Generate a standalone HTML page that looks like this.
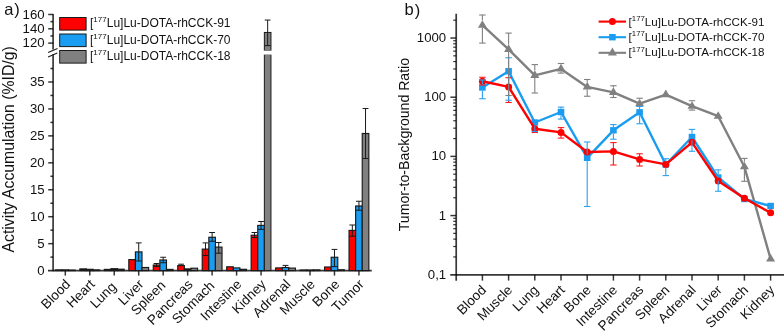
<!DOCTYPE html>
<html><head><meta charset="utf-8"><style>
html,body{margin:0;padding:0;background:#fff;width:784px;height:336px;overflow:hidden;}
svg{display:block;will-change:transform;}
text{font-family:"Liberation Sans", sans-serif;fill:#111;}
</style></head><body>
<svg width="784" height="336" viewBox="0 0 784 336">
<rect width="784" height="336" fill="#fff"/>
<line x1="53.1" y1="54.3" x2="53.1" y2="271.3" stroke="#000" stroke-opacity="0.78" stroke-width="1.7"/>
<line x1="53.1" y1="13.88" x2="53.1" y2="49.6" stroke="#000" stroke-opacity="0.78" stroke-width="1.7"/>
<line x1="48.1" y1="52.4" x2="57.5" y2="48.4" stroke="#1a1a1a" stroke-width="1.1"/>
<line x1="48.1" y1="57.0" x2="57.3" y2="53.1" stroke="#1a1a1a" stroke-width="1.1"/>
<line x1="48" y1="270.6" x2="371.8" y2="270.6" stroke="#000" stroke-opacity="0.78" stroke-width="1.8"/>
<text x="44.6" y="274.7" font-size="13.2" text-anchor="end">0</text>
<line x1="48.2" y1="243.66" x2="53.1" y2="243.66" stroke="#000" stroke-opacity="0.78" stroke-width="1.5"/>
<text x="44.6" y="247.76" font-size="13.2" text-anchor="end">5</text>
<line x1="48.2" y1="216.71" x2="53.1" y2="216.71" stroke="#000" stroke-opacity="0.78" stroke-width="1.5"/>
<text x="44.6" y="220.81" font-size="13.2" text-anchor="end">10</text>
<line x1="48.2" y1="189.77" x2="53.1" y2="189.77" stroke="#000" stroke-opacity="0.78" stroke-width="1.5"/>
<text x="44.6" y="193.87" font-size="13.2" text-anchor="end">15</text>
<line x1="48.2" y1="162.82" x2="53.1" y2="162.82" stroke="#000" stroke-opacity="0.78" stroke-width="1.5"/>
<text x="44.6" y="166.92" font-size="13.2" text-anchor="end">20</text>
<line x1="48.2" y1="135.88" x2="53.1" y2="135.88" stroke="#000" stroke-opacity="0.78" stroke-width="1.5"/>
<text x="44.6" y="139.98" font-size="13.2" text-anchor="end">25</text>
<line x1="48.2" y1="108.93" x2="53.1" y2="108.93" stroke="#000" stroke-opacity="0.78" stroke-width="1.5"/>
<text x="44.6" y="113.03" font-size="13.2" text-anchor="end">30</text>
<line x1="48.2" y1="81.99" x2="53.1" y2="81.99" stroke="#000" stroke-opacity="0.78" stroke-width="1.5"/>
<text x="44.6" y="86.09" font-size="13.2" text-anchor="end">35</text>
<line x1="50.4" y1="257.13" x2="53.1" y2="257.13" stroke="#000" stroke-opacity="0.78" stroke-width="1.5"/>
<line x1="50.4" y1="230.18" x2="53.1" y2="230.18" stroke="#000" stroke-opacity="0.78" stroke-width="1.5"/>
<line x1="50.4" y1="203.24" x2="53.1" y2="203.24" stroke="#000" stroke-opacity="0.78" stroke-width="1.5"/>
<line x1="50.4" y1="176.29" x2="53.1" y2="176.29" stroke="#000" stroke-opacity="0.78" stroke-width="1.5"/>
<line x1="50.4" y1="149.35" x2="53.1" y2="149.35" stroke="#000" stroke-opacity="0.78" stroke-width="1.5"/>
<line x1="50.4" y1="122.4" x2="53.1" y2="122.4" stroke="#000" stroke-opacity="0.78" stroke-width="1.5"/>
<line x1="50.4" y1="95.46" x2="53.1" y2="95.46" stroke="#000" stroke-opacity="0.78" stroke-width="1.5"/>
<line x1="50.4" y1="68.51" x2="53.1" y2="68.51" stroke="#000" stroke-opacity="0.78" stroke-width="1.5"/>
<line x1="48.2" y1="43.1" x2="53.1" y2="43.1" stroke="#000" stroke-opacity="0.78" stroke-width="1.5"/>
<text x="44.6" y="47.2" font-size="13.2" text-anchor="end">120</text>
<line x1="48.2" y1="28.79" x2="53.1" y2="28.79" stroke="#000" stroke-opacity="0.78" stroke-width="1.5"/>
<text x="44.6" y="32.89" font-size="13.2" text-anchor="end">140</text>
<line x1="48.2" y1="14.48" x2="53.1" y2="14.48" stroke="#000" stroke-opacity="0.78" stroke-width="1.5"/>
<text x="44.6" y="18.58" font-size="13.2" text-anchor="end">160</text>
<line x1="50.4" y1="35.94" x2="53.1" y2="35.94" stroke="#000" stroke-opacity="0.78" stroke-width="1.5"/>
<line x1="50.4" y1="21.63" x2="53.1" y2="21.63" stroke="#000" stroke-opacity="0.78" stroke-width="1.5"/>
<line x1="65.3" y1="270.6" x2="65.3" y2="275.6" stroke="#000" stroke-opacity="0.78" stroke-width="1.5"/>
<text transform="translate(71.1,285.1) rotate(-45)" font-size="13.6" text-anchor="end">Blood</text>
<line x1="89.77" y1="270.6" x2="89.77" y2="275.6" stroke="#000" stroke-opacity="0.78" stroke-width="1.5"/>
<text transform="translate(95.57,285.1) rotate(-45)" font-size="13.6" text-anchor="end">Heart</text>
<line x1="114.24" y1="270.6" x2="114.24" y2="275.6" stroke="#000" stroke-opacity="0.78" stroke-width="1.5"/>
<text transform="translate(117.04,287.6) rotate(-45)" font-size="13.6" text-anchor="end">Lung</text>
<line x1="138.71" y1="270.6" x2="138.71" y2="275.6" stroke="#000" stroke-opacity="0.78" stroke-width="1.5"/>
<text transform="translate(144.51,285.1) rotate(-45)" font-size="13.6" text-anchor="end">Liver</text>
<line x1="163.18" y1="270.6" x2="163.18" y2="275.6" stroke="#000" stroke-opacity="0.78" stroke-width="1.5"/>
<text transform="translate(166.38,286.1) rotate(-45)" font-size="13.6" text-anchor="end">Spleen</text>
<line x1="187.65" y1="270.6" x2="187.65" y2="275.6" stroke="#000" stroke-opacity="0.78" stroke-width="1.5"/>
<text transform="translate(193.45,285.1) rotate(-45)" font-size="13.6" text-anchor="end">Pancreas</text>
<line x1="212.12" y1="270.6" x2="212.12" y2="275.6" stroke="#000" stroke-opacity="0.78" stroke-width="1.5"/>
<text transform="translate(215.32,286.6) rotate(-45)" font-size="13.6" text-anchor="end">Stomach</text>
<line x1="236.59" y1="270.6" x2="236.59" y2="275.6" stroke="#000" stroke-opacity="0.78" stroke-width="1.5"/>
<text transform="translate(242.39,285.1) rotate(-45)" font-size="13.6" text-anchor="end">Intestine</text>
<line x1="261.06" y1="270.6" x2="261.06" y2="275.6" stroke="#000" stroke-opacity="0.78" stroke-width="1.5"/>
<text transform="translate(266.86,285.1) rotate(-45)" font-size="13.6" text-anchor="end">Kidney</text>
<line x1="285.53" y1="270.6" x2="285.53" y2="275.6" stroke="#000" stroke-opacity="0.78" stroke-width="1.5"/>
<text transform="translate(291.33,285.1) rotate(-45)" font-size="13.6" text-anchor="end">Adrenal</text>
<line x1="310" y1="270.6" x2="310" y2="275.6" stroke="#000" stroke-opacity="0.78" stroke-width="1.5"/>
<text transform="translate(315.8,285.1) rotate(-45)" font-size="13.6" text-anchor="end">Muscle</text>
<line x1="334.47" y1="270.6" x2="334.47" y2="275.6" stroke="#000" stroke-opacity="0.78" stroke-width="1.5"/>
<text transform="translate(340.27,285.1) rotate(-45)" font-size="13.6" text-anchor="end">Bone</text>
<line x1="358.94" y1="270.6" x2="358.94" y2="275.6" stroke="#000" stroke-opacity="0.78" stroke-width="1.5"/>
<text transform="translate(364.74,285.1) rotate(-45)" font-size="13.6" text-anchor="end">Tumor</text>
<rect x="55.4" y="269.9" width="6.6" height="0.7" fill="#1a1a1a" stroke="#1a1a1a" stroke-width="1.15"/>
<rect x="62" y="269.9" width="6.6" height="0.7" fill="#1a1a1a" stroke="#1a1a1a" stroke-width="1.15"/>
<rect x="68.6" y="270.1" width="6.6" height="0.5" fill="#1a1a1a" stroke="#1a1a1a" stroke-width="1.15"/>
<rect x="79.87" y="268.9" width="6.6" height="1.7" fill="#1a1a1a" stroke="#1a1a1a" stroke-width="1.15"/>
<rect x="86.47" y="269.3" width="6.6" height="1.3" fill="#1a1a1a" stroke="#1a1a1a" stroke-width="1.15"/>
<rect x="93.07" y="269.9" width="6.6" height="0.7" fill="#1a1a1a" stroke="#1a1a1a" stroke-width="1.15"/>
<rect x="104.34" y="269.4" width="6.6" height="1.2" fill="#1a1a1a" stroke="#1a1a1a" stroke-width="1.15"/>
<rect x="110.94" y="268.7" width="6.6" height="1.9" fill="#1a1a1a" stroke="#1a1a1a" stroke-width="1.15"/>
<rect x="117.54" y="269.2" width="6.6" height="1.4" fill="#1a1a1a" stroke="#1a1a1a" stroke-width="1.15"/>
<rect x="128.81" y="259.6" width="6.6" height="11" fill="#ff0000" stroke="#1a1a1a" stroke-width="1.15"/>
<rect x="135.41" y="251.9" width="6.6" height="18.7" fill="#1a9cf0" stroke="#1a1a1a" stroke-width="1.15"/>
<line x1="138.71" y1="242.9" x2="138.71" y2="251.9" stroke="#1a1a1a" stroke-width="1"/>
<line x1="135.81" y1="242.9" x2="141.61" y2="242.9" stroke="#1a1a1a" stroke-width="1"/>
<line x1="138.71" y1="251.9" x2="138.71" y2="261" stroke="#1a1a1a" stroke-width="1"/>
<line x1="135.71" y1="261" x2="141.71" y2="261" stroke="#1a1a1a" stroke-width="1"/>
<rect x="142.01" y="267.5" width="6.6" height="3.1" fill="#808080" stroke="#1a1a1a" stroke-width="1.15"/>
<rect x="153.28" y="265" width="6.6" height="5.6" fill="#ff0000" stroke="#1a1a1a" stroke-width="1.15"/>
<line x1="156.58" y1="263.5" x2="156.58" y2="265" stroke="#1a1a1a" stroke-width="1"/>
<line x1="153.68" y1="263.5" x2="159.48" y2="263.5" stroke="#1a1a1a" stroke-width="1"/>
<line x1="156.58" y1="265" x2="156.58" y2="266.5" stroke="#1a1a1a" stroke-width="1"/>
<line x1="153.58" y1="266.5" x2="159.58" y2="266.5" stroke="#1a1a1a" stroke-width="1"/>
<rect x="159.88" y="260" width="6.6" height="10.6" fill="#1a9cf0" stroke="#1a1a1a" stroke-width="1.15"/>
<line x1="163.18" y1="257.25" x2="163.18" y2="260" stroke="#1a1a1a" stroke-width="1"/>
<line x1="160.28" y1="257.25" x2="166.08" y2="257.25" stroke="#1a1a1a" stroke-width="1"/>
<line x1="163.18" y1="260" x2="163.18" y2="262.75" stroke="#1a1a1a" stroke-width="1"/>
<line x1="160.18" y1="262.75" x2="166.18" y2="262.75" stroke="#1a1a1a" stroke-width="1"/>
<rect x="166.48" y="269.4" width="6.6" height="1.2" fill="#1a1a1a" stroke="#1a1a1a" stroke-width="1.15"/>
<rect x="177.75" y="265.6" width="6.6" height="5" fill="#ff0000" stroke="#1a1a1a" stroke-width="1.15"/>
<line x1="181.05" y1="264.2" x2="181.05" y2="265.6" stroke="#1a1a1a" stroke-width="1"/>
<line x1="178.15" y1="264.2" x2="183.95" y2="264.2" stroke="#1a1a1a" stroke-width="1"/>
<rect x="184.35" y="268.9" width="6.6" height="1.7" fill="#1a1a1a" stroke="#1a1a1a" stroke-width="1.15"/>
<rect x="190.95" y="268.2" width="6.6" height="2.4" fill="#808080" stroke="#1a1a1a" stroke-width="1.15"/>
<rect x="202.22" y="249.1" width="6.6" height="21.5" fill="#ff0000" stroke="#1a1a1a" stroke-width="1.15"/>
<line x1="205.52" y1="242.9" x2="205.52" y2="249.1" stroke="#1a1a1a" stroke-width="1"/>
<line x1="202.62" y1="242.9" x2="208.42" y2="242.9" stroke="#1a1a1a" stroke-width="1"/>
<line x1="205.52" y1="249.1" x2="205.52" y2="255.5" stroke="#1a1a1a" stroke-width="1"/>
<line x1="202.52" y1="255.5" x2="208.52" y2="255.5" stroke="#1a1a1a" stroke-width="1"/>
<rect x="208.82" y="237.25" width="6.6" height="33.35" fill="#1a9cf0" stroke="#1a1a1a" stroke-width="1.15"/>
<line x1="212.12" y1="232.5" x2="212.12" y2="237.25" stroke="#1a1a1a" stroke-width="1"/>
<line x1="209.22" y1="232.5" x2="215.02" y2="232.5" stroke="#1a1a1a" stroke-width="1"/>
<line x1="212.12" y1="237.25" x2="212.12" y2="241.25" stroke="#1a1a1a" stroke-width="1"/>
<line x1="209.12" y1="241.25" x2="215.12" y2="241.25" stroke="#1a1a1a" stroke-width="1"/>
<rect x="215.42" y="247.1" width="6.6" height="23.5" fill="#808080" stroke="#1a1a1a" stroke-width="1.15"/>
<line x1="218.72" y1="242.5" x2="218.72" y2="247.1" stroke="#1a1a1a" stroke-width="1"/>
<line x1="215.82" y1="242.5" x2="221.62" y2="242.5" stroke="#1a1a1a" stroke-width="1"/>
<line x1="218.72" y1="247.1" x2="218.72" y2="253.2" stroke="#1a1a1a" stroke-width="1"/>
<line x1="215.72" y1="253.2" x2="221.72" y2="253.2" stroke="#1a1a1a" stroke-width="1"/>
<rect x="226.69" y="266.8" width="6.6" height="3.8" fill="#ff0000" stroke="#1a1a1a" stroke-width="1.15"/>
<rect x="233.29" y="267.9" width="6.6" height="2.7" fill="#1a9cf0" stroke="#1a1a1a" stroke-width="1.15"/>
<rect x="239.89" y="269.3" width="6.6" height="1.3" fill="#1a1a1a" stroke="#1a1a1a" stroke-width="1.15"/>
<rect x="251.16" y="235.25" width="6.6" height="35.35" fill="#ff0000" stroke="#1a1a1a" stroke-width="1.15"/>
<line x1="254.46" y1="232.5" x2="254.46" y2="235.25" stroke="#1a1a1a" stroke-width="1"/>
<line x1="251.56" y1="232.5" x2="257.36" y2="232.5" stroke="#1a1a1a" stroke-width="1"/>
<line x1="254.46" y1="235.25" x2="254.46" y2="237.5" stroke="#1a1a1a" stroke-width="1"/>
<line x1="251.46" y1="237.5" x2="257.46" y2="237.5" stroke="#1a1a1a" stroke-width="1"/>
<rect x="257.76" y="225.4" width="6.6" height="45.2" fill="#1a9cf0" stroke="#1a1a1a" stroke-width="1.15"/>
<line x1="261.06" y1="221.5" x2="261.06" y2="225.4" stroke="#1a1a1a" stroke-width="1"/>
<line x1="258.16" y1="221.5" x2="263.96" y2="221.5" stroke="#1a1a1a" stroke-width="1"/>
<line x1="261.06" y1="225.4" x2="261.06" y2="229.4" stroke="#1a1a1a" stroke-width="1"/>
<line x1="258.06" y1="229.4" x2="264.06" y2="229.4" stroke="#1a1a1a" stroke-width="1"/>
<rect x="275.63" y="267.9" width="6.6" height="2.7" fill="#ff0000" stroke="#1a1a1a" stroke-width="1.15"/>
<rect x="282.23" y="267.5" width="6.6" height="3.1" fill="#1a9cf0" stroke="#1a1a1a" stroke-width="1.15"/>
<line x1="285.53" y1="265.4" x2="285.53" y2="267.5" stroke="#1a1a1a" stroke-width="1"/>
<line x1="282.63" y1="265.4" x2="288.43" y2="265.4" stroke="#1a1a1a" stroke-width="1"/>
<rect x="288.83" y="268.1" width="6.6" height="2.5" fill="#808080" stroke="#1a1a1a" stroke-width="1.15"/>
<rect x="300.1" y="270" width="6.6" height="0.6" fill="#1a1a1a" stroke="#1a1a1a" stroke-width="1.15"/>
<rect x="306.7" y="270" width="6.6" height="0.6" fill="#1a1a1a" stroke="#1a1a1a" stroke-width="1.15"/>
<rect x="313.3" y="269.9" width="6.6" height="0.7" fill="#1a1a1a" stroke="#1a1a1a" stroke-width="1.15"/>
<rect x="324.57" y="267" width="6.6" height="3.6" fill="#ff0000" stroke="#1a1a1a" stroke-width="1.15"/>
<rect x="331.17" y="257.25" width="6.6" height="13.35" fill="#1a9cf0" stroke="#1a1a1a" stroke-width="1.15"/>
<line x1="334.47" y1="249.4" x2="334.47" y2="257.25" stroke="#1a1a1a" stroke-width="1"/>
<line x1="331.57" y1="249.4" x2="337.37" y2="249.4" stroke="#1a1a1a" stroke-width="1"/>
<line x1="334.47" y1="257.25" x2="334.47" y2="266.6" stroke="#1a1a1a" stroke-width="1"/>
<line x1="331.47" y1="266.6" x2="337.47" y2="266.6" stroke="#1a1a1a" stroke-width="1"/>
<rect x="337.77" y="269.8" width="6.6" height="0.8" fill="#1a1a1a" stroke="#1a1a1a" stroke-width="1.15"/>
<rect x="349.04" y="230.4" width="6.6" height="40.2" fill="#ff0000" stroke="#1a1a1a" stroke-width="1.15"/>
<line x1="352.34" y1="225" x2="352.34" y2="230.4" stroke="#1a1a1a" stroke-width="1"/>
<line x1="349.44" y1="225" x2="355.24" y2="225" stroke="#1a1a1a" stroke-width="1"/>
<line x1="352.34" y1="230.4" x2="352.34" y2="236.25" stroke="#1a1a1a" stroke-width="1"/>
<line x1="349.34" y1="236.25" x2="355.34" y2="236.25" stroke="#1a1a1a" stroke-width="1"/>
<rect x="355.64" y="206" width="6.6" height="64.6" fill="#1a9cf0" stroke="#1a1a1a" stroke-width="1.15"/>
<line x1="358.94" y1="201.25" x2="358.94" y2="206" stroke="#1a1a1a" stroke-width="1"/>
<line x1="356.04" y1="201.25" x2="361.84" y2="201.25" stroke="#1a1a1a" stroke-width="1"/>
<line x1="358.94" y1="206" x2="358.94" y2="210.25" stroke="#1a1a1a" stroke-width="1"/>
<line x1="355.94" y1="210.25" x2="361.94" y2="210.25" stroke="#1a1a1a" stroke-width="1"/>
<rect x="362.24" y="133.5" width="6.6" height="137.1" fill="#808080" stroke="#1a1a1a" stroke-width="1.15"/>
<line x1="365.54" y1="108.5" x2="365.54" y2="133.5" stroke="#1a1a1a" stroke-width="1"/>
<line x1="362.64" y1="108.5" x2="368.44" y2="108.5" stroke="#1a1a1a" stroke-width="1"/>
<line x1="365.54" y1="133.5" x2="365.54" y2="158.5" stroke="#1a1a1a" stroke-width="1"/>
<line x1="362.54" y1="158.5" x2="368.54" y2="158.5" stroke="#1a1a1a" stroke-width="1"/>
<rect x="264.36" y="54.4" width="6.6" height="216.2" fill="#808080" stroke="#1a1a1a" stroke-width="1"/>
<rect x="263.36" y="50.6" width="8.6" height="3.8" fill="#fff"/>
<rect x="264.36" y="32.45" width="6.6" height="18.15" fill="#808080" stroke="#1a1a1a" stroke-width="1"/>
<rect x="263.36" y="50.6" width="8.6" height="3.8" fill="#fff"/>
<line x1="267.66" y1="20.06" x2="267.66" y2="45.6" stroke="#1a1a1a" stroke-width="1"/>
<line x1="264.76" y1="20.06" x2="270.56" y2="20.06" stroke="#1a1a1a" stroke-width="1"/>
<line x1="264.66" y1="45.6" x2="270.66" y2="45.6" stroke="#1a1a1a" stroke-width="1"/>
<rect x="59.7" y="17.5" width="26.4" height="12.6" fill="#ff0000" stroke="#1a1a1a" stroke-width="1"/>
<text x="90.0" y="27.3" font-size="12">[<tspan font-size="8" dy="-5">177</tspan><tspan dy="5">Lu]Lu-DOTA-rhCCK-91</tspan></text>
<rect x="59.7" y="34" width="26.4" height="12.6" fill="#1a9cf0" stroke="#1a1a1a" stroke-width="1"/>
<text x="90.0" y="43.8" font-size="12">[<tspan font-size="8" dy="-5">177</tspan><tspan dy="5">Lu]Lu-DOTA-rhCCK-70</tspan></text>
<rect x="59.7" y="50.5" width="26.4" height="12.6" fill="#808080" stroke="#1a1a1a" stroke-width="1"/>
<text x="90.0" y="60.3" font-size="12">[<tspan font-size="8" dy="-5">177</tspan><tspan dy="5">Lu]Lu-DOTA-rhCCK-18</tspan></text>
<text transform="translate(13.6,149.4) rotate(-90)" font-size="15.8" text-anchor="middle">Activity Accumulation (%ID/g)</text>
<text x="4.2" y="15.0" font-size="16.5">a</text><text x="14.2" y="15.4" font-size="16.5">)</text>
<line x1="456.2" y1="13.75" x2="456.2" y2="280.8" stroke="#000" stroke-opacity="0.78" stroke-width="1.7"/>
<line x1="450.2" y1="274.9" x2="784" y2="274.9" stroke="#000" stroke-opacity="0.78" stroke-width="1.8"/>
<text x="446.2" y="278.85" font-size="13.2" text-anchor="end">0,1</text>
<line x1="450.4" y1="215.57" x2="456.2" y2="215.57" stroke="#000" stroke-opacity="0.78" stroke-width="1.5"/>
<text x="446.2" y="219.67" font-size="13.2" text-anchor="end">1</text>
<line x1="450.4" y1="156.39" x2="456.2" y2="156.39" stroke="#000" stroke-opacity="0.78" stroke-width="1.5"/>
<text x="446.2" y="160.49" font-size="13.2" text-anchor="end">10</text>
<line x1="450.4" y1="97.21" x2="456.2" y2="97.21" stroke="#000" stroke-opacity="0.78" stroke-width="1.5"/>
<text x="446.2" y="101.31" font-size="13.2" text-anchor="end">100</text>
<line x1="450.4" y1="38.03" x2="456.2" y2="38.03" stroke="#000" stroke-opacity="0.78" stroke-width="1.5"/>
<text x="446.2" y="42.13" font-size="13.2" text-anchor="end">1000</text>
<line x1="453.2" y1="256.94" x2="456.2" y2="256.94" stroke="#000" stroke-opacity="0.78" stroke-width="1.2"/>
<line x1="453.2" y1="246.51" x2="456.2" y2="246.51" stroke="#000" stroke-opacity="0.78" stroke-width="1.2"/>
<line x1="453.2" y1="239.12" x2="456.2" y2="239.12" stroke="#000" stroke-opacity="0.78" stroke-width="1.2"/>
<line x1="453.2" y1="233.38" x2="456.2" y2="233.38" stroke="#000" stroke-opacity="0.78" stroke-width="1.2"/>
<line x1="453.2" y1="228.7" x2="456.2" y2="228.7" stroke="#000" stroke-opacity="0.78" stroke-width="1.2"/>
<line x1="453.2" y1="224.74" x2="456.2" y2="224.74" stroke="#000" stroke-opacity="0.78" stroke-width="1.2"/>
<line x1="453.2" y1="221.31" x2="456.2" y2="221.31" stroke="#000" stroke-opacity="0.78" stroke-width="1.2"/>
<line x1="453.2" y1="218.28" x2="456.2" y2="218.28" stroke="#000" stroke-opacity="0.78" stroke-width="1.2"/>
<line x1="453.2" y1="197.76" x2="456.2" y2="197.76" stroke="#000" stroke-opacity="0.78" stroke-width="1.2"/>
<line x1="453.2" y1="187.33" x2="456.2" y2="187.33" stroke="#000" stroke-opacity="0.78" stroke-width="1.2"/>
<line x1="453.2" y1="179.94" x2="456.2" y2="179.94" stroke="#000" stroke-opacity="0.78" stroke-width="1.2"/>
<line x1="453.2" y1="174.2" x2="456.2" y2="174.2" stroke="#000" stroke-opacity="0.78" stroke-width="1.2"/>
<line x1="453.2" y1="169.52" x2="456.2" y2="169.52" stroke="#000" stroke-opacity="0.78" stroke-width="1.2"/>
<line x1="453.2" y1="165.56" x2="456.2" y2="165.56" stroke="#000" stroke-opacity="0.78" stroke-width="1.2"/>
<line x1="453.2" y1="162.13" x2="456.2" y2="162.13" stroke="#000" stroke-opacity="0.78" stroke-width="1.2"/>
<line x1="453.2" y1="159.1" x2="456.2" y2="159.1" stroke="#000" stroke-opacity="0.78" stroke-width="1.2"/>
<line x1="453.2" y1="138.58" x2="456.2" y2="138.58" stroke="#000" stroke-opacity="0.78" stroke-width="1.2"/>
<line x1="453.2" y1="128.15" x2="456.2" y2="128.15" stroke="#000" stroke-opacity="0.78" stroke-width="1.2"/>
<line x1="453.2" y1="120.76" x2="456.2" y2="120.76" stroke="#000" stroke-opacity="0.78" stroke-width="1.2"/>
<line x1="453.2" y1="115.02" x2="456.2" y2="115.02" stroke="#000" stroke-opacity="0.78" stroke-width="1.2"/>
<line x1="453.2" y1="110.34" x2="456.2" y2="110.34" stroke="#000" stroke-opacity="0.78" stroke-width="1.2"/>
<line x1="453.2" y1="106.38" x2="456.2" y2="106.38" stroke="#000" stroke-opacity="0.78" stroke-width="1.2"/>
<line x1="453.2" y1="102.95" x2="456.2" y2="102.95" stroke="#000" stroke-opacity="0.78" stroke-width="1.2"/>
<line x1="453.2" y1="99.92" x2="456.2" y2="99.92" stroke="#000" stroke-opacity="0.78" stroke-width="1.2"/>
<line x1="453.2" y1="79.4" x2="456.2" y2="79.4" stroke="#000" stroke-opacity="0.78" stroke-width="1.2"/>
<line x1="453.2" y1="68.97" x2="456.2" y2="68.97" stroke="#000" stroke-opacity="0.78" stroke-width="1.2"/>
<line x1="453.2" y1="61.58" x2="456.2" y2="61.58" stroke="#000" stroke-opacity="0.78" stroke-width="1.2"/>
<line x1="453.2" y1="55.84" x2="456.2" y2="55.84" stroke="#000" stroke-opacity="0.78" stroke-width="1.2"/>
<line x1="453.2" y1="51.16" x2="456.2" y2="51.16" stroke="#000" stroke-opacity="0.78" stroke-width="1.2"/>
<line x1="453.2" y1="47.2" x2="456.2" y2="47.2" stroke="#000" stroke-opacity="0.78" stroke-width="1.2"/>
<line x1="453.2" y1="43.77" x2="456.2" y2="43.77" stroke="#000" stroke-opacity="0.78" stroke-width="1.2"/>
<line x1="453.2" y1="40.74" x2="456.2" y2="40.74" stroke="#000" stroke-opacity="0.78" stroke-width="1.2"/>
<line x1="453.2" y1="20.22" x2="456.2" y2="20.22" stroke="#000" stroke-opacity="0.78" stroke-width="1.2"/>
<line x1="482.4" y1="274.9" x2="482.4" y2="280.6" stroke="#000" stroke-opacity="0.78" stroke-width="1.5"/>
<text transform="translate(487,290.8) rotate(-45)" font-size="13.6" text-anchor="end">Blood</text>
<line x1="508.6" y1="274.9" x2="508.6" y2="280.6" stroke="#000" stroke-opacity="0.78" stroke-width="1.5"/>
<text transform="translate(513.2,290.8) rotate(-45)" font-size="13.6" text-anchor="end">Muscle</text>
<line x1="534.8" y1="274.9" x2="534.8" y2="280.6" stroke="#000" stroke-opacity="0.78" stroke-width="1.5"/>
<text transform="translate(539.4,290.8) rotate(-45)" font-size="13.6" text-anchor="end">Lung</text>
<line x1="561" y1="274.9" x2="561" y2="280.6" stroke="#000" stroke-opacity="0.78" stroke-width="1.5"/>
<text transform="translate(565.6,290.8) rotate(-45)" font-size="13.6" text-anchor="end">Heart</text>
<line x1="587.2" y1="274.9" x2="587.2" y2="280.6" stroke="#000" stroke-opacity="0.78" stroke-width="1.5"/>
<text transform="translate(591.8,290.8) rotate(-45)" font-size="13.6" text-anchor="end">Bone</text>
<line x1="613.4" y1="274.9" x2="613.4" y2="280.6" stroke="#000" stroke-opacity="0.78" stroke-width="1.5"/>
<text transform="translate(618,290.8) rotate(-45)" font-size="13.6" text-anchor="end">Intestine</text>
<line x1="639.6" y1="274.9" x2="639.6" y2="280.6" stroke="#000" stroke-opacity="0.78" stroke-width="1.5"/>
<text transform="translate(644.2,290.8) rotate(-45)" font-size="13.6" text-anchor="end">Pancreas</text>
<line x1="665.8" y1="274.9" x2="665.8" y2="280.6" stroke="#000" stroke-opacity="0.78" stroke-width="1.5"/>
<text transform="translate(670.4,290.8) rotate(-45)" font-size="13.6" text-anchor="end">Spleen</text>
<line x1="692" y1="274.9" x2="692" y2="280.6" stroke="#000" stroke-opacity="0.78" stroke-width="1.5"/>
<text transform="translate(696.6,290.8) rotate(-45)" font-size="13.6" text-anchor="end">Adrenal</text>
<line x1="718.2" y1="274.9" x2="718.2" y2="280.6" stroke="#000" stroke-opacity="0.78" stroke-width="1.5"/>
<text transform="translate(722.8,290.8) rotate(-45)" font-size="13.6" text-anchor="end">Liver</text>
<line x1="744.4" y1="274.9" x2="744.4" y2="280.6" stroke="#000" stroke-opacity="0.78" stroke-width="1.5"/>
<text transform="translate(749,290.8) rotate(-45)" font-size="13.6" text-anchor="end">Stomach</text>
<line x1="770.6" y1="274.9" x2="770.6" y2="280.6" stroke="#000" stroke-opacity="0.78" stroke-width="1.5"/>
<text transform="translate(775.2,290.8) rotate(-45)" font-size="13.6" text-anchor="end">Kidney</text>
<polyline points="482.4,25.2 508.6,49.4 534.8,75.4 561,68.9 587.2,86.9 613.4,92.4 639.6,103.7 665.8,94.6 692,106.2 718.2,116.2 744.4,166.8 770.6,258.9" fill="none" stroke="#808080" stroke-width="2.4" stroke-linejoin="round"/>
<path d="M482.4,20.13 L486.9,27.73 L477.9,27.73 Z" fill="#808080"/>
<path d="M508.6,44.33 L513.1,51.93 L504.1,51.93 Z" fill="#808080"/>
<path d="M534.8,70.33 L539.3,77.93 L530.3,77.93 Z" fill="#808080"/>
<path d="M561,63.83 L565.5,71.43 L556.5,71.43 Z" fill="#808080"/>
<path d="M587.2,81.83 L591.7,89.43 L582.7,89.43 Z" fill="#808080"/>
<path d="M613.4,87.33 L617.9,94.93 L608.9,94.93 Z" fill="#808080"/>
<path d="M639.6,98.63 L644.1,106.23 L635.1,106.23 Z" fill="#808080"/>
<path d="M665.8,89.53 L670.3,97.13 L661.3,97.13 Z" fill="#808080"/>
<path d="M692,101.13 L696.5,108.73 L687.5,108.73 Z" fill="#808080"/>
<path d="M718.2,111.13 L722.7,118.73 L713.7,118.73 Z" fill="#808080"/>
<path d="M744.4,161.73 L748.9,169.33 L739.9,169.33 Z" fill="#808080"/>
<path d="M770.6,253.83 L775.1,261.43 L766.1,261.43 Z" fill="#808080"/>
<polyline points="482.4,87.5 508.6,71.25 534.8,122.5 561,112 587.2,157.8 613.4,130.3 639.6,112.3 665.8,164.5 692,137 718.2,177.5 744.4,199 770.6,206" fill="none" stroke="#1a9cf0" stroke-width="2.4" stroke-linejoin="round"/>
<rect x="479.1" y="84.3" width="6.6" height="6.4" fill="#1a9cf0"/>
<rect x="505.3" y="68.05" width="6.6" height="6.4" fill="#1a9cf0"/>
<rect x="531.5" y="119.3" width="6.6" height="6.4" fill="#1a9cf0"/>
<rect x="557.7" y="108.8" width="6.6" height="6.4" fill="#1a9cf0"/>
<rect x="583.9" y="154.6" width="6.6" height="6.4" fill="#1a9cf0"/>
<rect x="610.1" y="127.1" width="6.6" height="6.4" fill="#1a9cf0"/>
<rect x="636.3" y="109.1" width="6.6" height="6.4" fill="#1a9cf0"/>
<rect x="662.5" y="161.3" width="6.6" height="6.4" fill="#1a9cf0"/>
<rect x="688.7" y="133.8" width="6.6" height="6.4" fill="#1a9cf0"/>
<rect x="714.9" y="174.3" width="6.6" height="6.4" fill="#1a9cf0"/>
<rect x="741.1" y="195.8" width="6.6" height="6.4" fill="#1a9cf0"/>
<rect x="767.3" y="202.8" width="6.6" height="6.4" fill="#1a9cf0"/>
<polyline points="482.4,81.25 508.6,86.9 534.8,128.7 561,132.4 587.2,152 613.4,151.4 639.6,159.4 665.8,164.4 692,142.3 718.2,181 744.4,198.3 770.6,212.75" fill="none" stroke="#ff0000" stroke-width="2.4" stroke-linejoin="round"/>
<circle cx="482.4" cy="81.25" r="3.5" fill="#ff0000"/>
<circle cx="508.6" cy="86.9" r="3.5" fill="#ff0000"/>
<circle cx="534.8" cy="128.7" r="3.5" fill="#ff0000"/>
<circle cx="561" cy="132.4" r="3.5" fill="#ff0000"/>
<circle cx="587.2" cy="152" r="3.5" fill="#ff0000"/>
<circle cx="613.4" cy="151.4" r="3.5" fill="#ff0000"/>
<circle cx="639.6" cy="159.4" r="3.5" fill="#ff0000"/>
<circle cx="665.8" cy="164.4" r="3.5" fill="#ff0000"/>
<circle cx="692" cy="142.3" r="3.5" fill="#ff0000"/>
<circle cx="718.2" cy="181" r="3.5" fill="#ff0000"/>
<circle cx="744.4" cy="198.3" r="3.5" fill="#ff0000"/>
<circle cx="770.6" cy="212.75" r="3.5" fill="#ff0000"/>
<line x1="482.4" y1="77.25" x2="482.4" y2="77.75" stroke="#ff1a1a" stroke-width="1.1"/>
<line x1="479.2" y1="77.25" x2="485.6" y2="77.25" stroke="#ff1a1a" stroke-width="1.1"/>
<line x1="482.4" y1="84.75" x2="482.4" y2="85" stroke="#ff1a1a" stroke-width="1.1"/>
<line x1="479.2" y1="85" x2="485.6" y2="85" stroke="#ff1a1a" stroke-width="1.1"/>
<line x1="508.6" y1="77.75" x2="508.6" y2="83.4" stroke="#ff1a1a" stroke-width="1.1"/>
<line x1="505.4" y1="77.75" x2="511.8" y2="77.75" stroke="#ff1a1a" stroke-width="1.1"/>
<line x1="508.6" y1="90.4" x2="508.6" y2="102.5" stroke="#ff1a1a" stroke-width="1.1"/>
<line x1="505.4" y1="102.5" x2="511.8" y2="102.5" stroke="#ff1a1a" stroke-width="1.1"/>
<line x1="534.8" y1="132.2" x2="534.8" y2="132.5" stroke="#ff1a1a" stroke-width="1.1"/>
<line x1="531.6" y1="132.5" x2="538" y2="132.5" stroke="#ff1a1a" stroke-width="1.1"/>
<line x1="561" y1="127.6" x2="561" y2="128.9" stroke="#ff1a1a" stroke-width="1.1"/>
<line x1="557.8" y1="127.6" x2="564.2" y2="127.6" stroke="#ff1a1a" stroke-width="1.1"/>
<line x1="561" y1="135.9" x2="561" y2="138.1" stroke="#ff1a1a" stroke-width="1.1"/>
<line x1="557.8" y1="138.1" x2="564.2" y2="138.1" stroke="#ff1a1a" stroke-width="1.1"/>
<line x1="613.4" y1="142.6" x2="613.4" y2="147.9" stroke="#ff1a1a" stroke-width="1.1"/>
<line x1="610.2" y1="142.6" x2="616.6" y2="142.6" stroke="#ff1a1a" stroke-width="1.1"/>
<line x1="613.4" y1="154.9" x2="613.4" y2="165" stroke="#ff1a1a" stroke-width="1.1"/>
<line x1="610.2" y1="165" x2="616.6" y2="165" stroke="#ff1a1a" stroke-width="1.1"/>
<line x1="639.6" y1="153.75" x2="639.6" y2="155.9" stroke="#ff1a1a" stroke-width="1.1"/>
<line x1="636.4" y1="153.75" x2="642.8" y2="153.75" stroke="#ff1a1a" stroke-width="1.1"/>
<line x1="639.6" y1="162.9" x2="639.6" y2="166" stroke="#ff1a1a" stroke-width="1.1"/>
<line x1="636.4" y1="166" x2="642.8" y2="166" stroke="#ff1a1a" stroke-width="1.1"/>
<line x1="482.4" y1="80" x2="482.4" y2="84.3" stroke="#2aa0f0" stroke-width="1.1"/>
<line x1="479.2" y1="80" x2="485.6" y2="80" stroke="#2aa0f0" stroke-width="1.1"/>
<line x1="482.4" y1="90.7" x2="482.4" y2="98.75" stroke="#2aa0f0" stroke-width="1.1"/>
<line x1="479.2" y1="98.75" x2="485.6" y2="98.75" stroke="#2aa0f0" stroke-width="1.1"/>
<line x1="508.6" y1="57.75" x2="508.6" y2="68.05" stroke="#2aa0f0" stroke-width="1.1"/>
<line x1="505.4" y1="57.75" x2="511.8" y2="57.75" stroke="#2aa0f0" stroke-width="1.1"/>
<line x1="508.6" y1="74.45" x2="508.6" y2="100.25" stroke="#2aa0f0" stroke-width="1.1"/>
<line x1="505.4" y1="100.25" x2="511.8" y2="100.25" stroke="#2aa0f0" stroke-width="1.1"/>
<line x1="534.8" y1="125.7" x2="534.8" y2="131.5" stroke="#2aa0f0" stroke-width="1.1"/>
<line x1="531.6" y1="131.5" x2="538" y2="131.5" stroke="#2aa0f0" stroke-width="1.1"/>
<line x1="561" y1="107.1" x2="561" y2="108.8" stroke="#2aa0f0" stroke-width="1.1"/>
<line x1="557.8" y1="107.1" x2="564.2" y2="107.1" stroke="#2aa0f0" stroke-width="1.1"/>
<line x1="561" y1="115.2" x2="561" y2="119.1" stroke="#2aa0f0" stroke-width="1.1"/>
<line x1="557.8" y1="119.1" x2="564.2" y2="119.1" stroke="#2aa0f0" stroke-width="1.1"/>
<line x1="587.2" y1="142" x2="587.2" y2="154.6" stroke="#2aa0f0" stroke-width="1.1"/>
<line x1="584" y1="142" x2="590.4" y2="142" stroke="#2aa0f0" stroke-width="1.1"/>
<line x1="587.2" y1="161" x2="587.2" y2="206.5" stroke="#2aa0f0" stroke-width="1.1"/>
<line x1="584" y1="206.5" x2="590.4" y2="206.5" stroke="#2aa0f0" stroke-width="1.1"/>
<line x1="613.4" y1="124.6" x2="613.4" y2="127.1" stroke="#2aa0f0" stroke-width="1.1"/>
<line x1="610.2" y1="124.6" x2="616.6" y2="124.6" stroke="#2aa0f0" stroke-width="1.1"/>
<line x1="613.4" y1="133.5" x2="613.4" y2="139.2" stroke="#2aa0f0" stroke-width="1.1"/>
<line x1="610.2" y1="139.2" x2="616.6" y2="139.2" stroke="#2aa0f0" stroke-width="1.1"/>
<line x1="639.6" y1="106.5" x2="639.6" y2="109.1" stroke="#2aa0f0" stroke-width="1.1"/>
<line x1="636.4" y1="106.5" x2="642.8" y2="106.5" stroke="#2aa0f0" stroke-width="1.1"/>
<line x1="639.6" y1="115.5" x2="639.6" y2="123.75" stroke="#2aa0f0" stroke-width="1.1"/>
<line x1="636.4" y1="123.75" x2="642.8" y2="123.75" stroke="#2aa0f0" stroke-width="1.1"/>
<line x1="665.8" y1="158.75" x2="665.8" y2="161.3" stroke="#2aa0f0" stroke-width="1.1"/>
<line x1="662.6" y1="158.75" x2="669" y2="158.75" stroke="#2aa0f0" stroke-width="1.1"/>
<line x1="665.8" y1="167.7" x2="665.8" y2="175.6" stroke="#2aa0f0" stroke-width="1.1"/>
<line x1="662.6" y1="175.6" x2="669" y2="175.6" stroke="#2aa0f0" stroke-width="1.1"/>
<line x1="692" y1="129.4" x2="692" y2="133.8" stroke="#2aa0f0" stroke-width="1.1"/>
<line x1="688.8" y1="129.4" x2="695.2" y2="129.4" stroke="#2aa0f0" stroke-width="1.1"/>
<line x1="692" y1="140.2" x2="692" y2="151.25" stroke="#2aa0f0" stroke-width="1.1"/>
<line x1="688.8" y1="151.25" x2="695.2" y2="151.25" stroke="#2aa0f0" stroke-width="1.1"/>
<line x1="718.2" y1="169.9" x2="718.2" y2="174.3" stroke="#2aa0f0" stroke-width="1.1"/>
<line x1="715" y1="169.9" x2="721.4" y2="169.9" stroke="#2aa0f0" stroke-width="1.1"/>
<line x1="718.2" y1="180.7" x2="718.2" y2="191.25" stroke="#2aa0f0" stroke-width="1.1"/>
<line x1="715" y1="191.25" x2="721.4" y2="191.25" stroke="#2aa0f0" stroke-width="1.1"/>
<line x1="482.4" y1="15" x2="482.4" y2="20.2" stroke="#808080" stroke-width="1.1"/>
<line x1="479.2" y1="15" x2="485.6" y2="15" stroke="#808080" stroke-width="1.1"/>
<line x1="482.4" y1="27.7" x2="482.4" y2="43.1" stroke="#808080" stroke-width="1.1"/>
<line x1="479.2" y1="43.1" x2="485.6" y2="43.1" stroke="#808080" stroke-width="1.1"/>
<line x1="508.6" y1="33.1" x2="508.6" y2="44.4" stroke="#808080" stroke-width="1.1"/>
<line x1="505.4" y1="33.1" x2="511.8" y2="33.1" stroke="#808080" stroke-width="1.1"/>
<line x1="508.6" y1="51.9" x2="508.6" y2="95.5" stroke="#808080" stroke-width="1.1"/>
<line x1="505.4" y1="95.5" x2="511.8" y2="95.5" stroke="#808080" stroke-width="1.1"/>
<line x1="534.8" y1="64.6" x2="534.8" y2="70.4" stroke="#808080" stroke-width="1.1"/>
<line x1="531.6" y1="64.6" x2="538" y2="64.6" stroke="#808080" stroke-width="1.1"/>
<line x1="534.8" y1="77.9" x2="534.8" y2="93" stroke="#808080" stroke-width="1.1"/>
<line x1="531.6" y1="93" x2="538" y2="93" stroke="#808080" stroke-width="1.1"/>
<line x1="561" y1="63.5" x2="561" y2="63.9" stroke="#808080" stroke-width="1.1"/>
<line x1="557.8" y1="63.5" x2="564.2" y2="63.5" stroke="#808080" stroke-width="1.1"/>
<line x1="561" y1="71.4" x2="561" y2="73.1" stroke="#808080" stroke-width="1.1"/>
<line x1="557.8" y1="73.1" x2="564.2" y2="73.1" stroke="#808080" stroke-width="1.1"/>
<line x1="587.2" y1="79.5" x2="587.2" y2="81.9" stroke="#808080" stroke-width="1.1"/>
<line x1="584" y1="79.5" x2="590.4" y2="79.5" stroke="#808080" stroke-width="1.1"/>
<line x1="587.2" y1="89.4" x2="587.2" y2="96.25" stroke="#808080" stroke-width="1.1"/>
<line x1="584" y1="96.25" x2="590.4" y2="96.25" stroke="#808080" stroke-width="1.1"/>
<line x1="613.4" y1="85.75" x2="613.4" y2="87.4" stroke="#808080" stroke-width="1.1"/>
<line x1="610.2" y1="85.75" x2="616.6" y2="85.75" stroke="#808080" stroke-width="1.1"/>
<line x1="613.4" y1="94.9" x2="613.4" y2="97.5" stroke="#808080" stroke-width="1.1"/>
<line x1="610.2" y1="97.5" x2="616.6" y2="97.5" stroke="#808080" stroke-width="1.1"/>
<line x1="639.6" y1="98.25" x2="639.6" y2="98.7" stroke="#808080" stroke-width="1.1"/>
<line x1="636.4" y1="98.25" x2="642.8" y2="98.25" stroke="#808080" stroke-width="1.1"/>
<line x1="692" y1="100.75" x2="692" y2="101.2" stroke="#808080" stroke-width="1.1"/>
<line x1="688.8" y1="100.75" x2="695.2" y2="100.75" stroke="#808080" stroke-width="1.1"/>
<line x1="692" y1="108.7" x2="692" y2="110.1" stroke="#808080" stroke-width="1.1"/>
<line x1="688.8" y1="110.1" x2="695.2" y2="110.1" stroke="#808080" stroke-width="1.1"/>
<line x1="744.4" y1="158.4" x2="744.4" y2="161.8" stroke="#808080" stroke-width="1.1"/>
<line x1="741.2" y1="158.4" x2="747.6" y2="158.4" stroke="#808080" stroke-width="1.1"/>
<line x1="744.4" y1="169.3" x2="744.4" y2="181.3" stroke="#808080" stroke-width="1.1"/>
<line x1="741.2" y1="181.3" x2="747.6" y2="181.3" stroke="#808080" stroke-width="1.1"/>
<line x1="598.6" y1="21.6" x2="626" y2="21.6" stroke="#ff0000" stroke-width="2.1"/>
<circle cx="612.4" cy="21.6" r="3.5" fill="#ff0000"/>
<text x="628.6" y="25.5" font-size="11.6">[<tspan font-size="7.8" dy="-4.8">177</tspan><tspan dy="4.8">Lu]Lu-DOTA-rhCCK-91</tspan></text>
<line x1="598.6" y1="37.2" x2="626" y2="37.2" stroke="#1a9cf0" stroke-width="2.1"/>
<rect x="609.1" y="34" width="6.6" height="6.4" fill="#1a9cf0"/>
<text x="628.6" y="40.95" font-size="11.6">[<tspan font-size="7.8" dy="-4.8">177</tspan><tspan dy="4.8">Lu]Lu-DOTA-rhCCK-70</tspan></text>
<line x1="598.6" y1="52.8" x2="626" y2="52.8" stroke="#808080" stroke-width="2.1"/>
<path d="M612.4,47.6 L616.9,55.4 L607.9,55.4 Z" fill="#808080"/>
<text x="628.6" y="56.4" font-size="11.6">[<tspan font-size="7.8" dy="-4.8">177</tspan><tspan dy="4.8">Lu]Lu-DOTA-rhCCK-18</tspan></text>
<text transform="translate(408.8,144.6) rotate(-90)" font-size="14.1" text-anchor="middle">Tumor-to-Background Ratio</text>
<text x="404.4" y="15.0" font-size="16.5">b</text><text x="414.7" y="15.6" font-size="16.5">)</text>
</svg>
</body></html>
